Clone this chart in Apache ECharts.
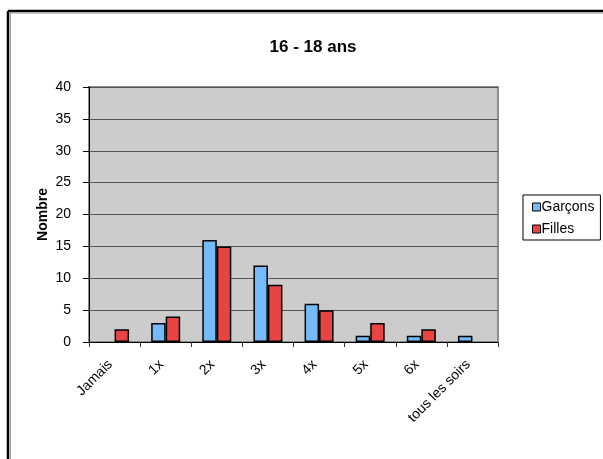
<!DOCTYPE html>
<html>
<head>
<meta charset="utf-8">
<script src="https://cdn.jsdelivr.net/npm/echarts@6/dist/echarts.min.js"></script>
<style>
  html, body { margin: 0; padding: 0; background: #fff; }
  #chart { width: 603px; height: 459px; }
</style>
</head>
<body>
<div id="chart"></div>
<script>
// Fréquence par tranche d'âge 16 - 18 ans
const categories = ['Jamais', '1x', '2x', '3x', '4x', '5x', '6x', 'tous les soirs'];
const garcons = [0, 3, 16, 12, 6, 1, 1, 1];
const filles = [2, 4, 15, 9, 5, 3, 2, 0];
const yTicks = [0, 5, 10, 15, 20, 25, 30, 35, 40];

const font = 'Liberation Sans, Arial, sans-serif';

// Bars with a value of zero get no outline so they don't thicken the axis line
const barData = (values) => values.map(v => (v === 0 ? { value: v, itemStyle: { borderWidth: 0 } } : v));

const chart = echarts.init(document.getElementById('chart'), null, { renderer: 'canvas' });

chart.setOption({
  backgroundColor: '#ffffff',
  animation: false,
  title: {
    text: '16 - 18 ans',
    left: 308,
    textAlign: 'center',
    top: 34,
    textStyle: { fontFamily: font, fontSize: 17, fontWeight: 'bold', color: '#000' }
  },
  legend: {
    orient: 'vertical',
    left: 523,
    top: 195,
    itemWidth: 8,
    itemHeight: 8,
    itemGap: 6,
    padding: [4, 6, 3, 9],
    borderColor: '#000',
    borderWidth: 1,
    backgroundColor: '#fff',
    borderRadius: 0,
    icon: 'rect',
    textStyle: { fontFamily: font, fontSize: 14, lineHeight: 16, color: '#000', padding: [0, 0, 0, -4] },
    data: [
      { name: 'Garçons', itemStyle: { borderColor: '#000', borderWidth: 1 } },
      { name: 'Filles', itemStyle: { borderColor: '#000', borderWidth: 1 } }
    ]
  },
  grid: {
    left: 89, right: 105, top: 87, bottom: 117,
    show: true,
    backgroundColor: '#cccccc',
    borderColor: '#8c8c8c',
    borderWidth: 2
  },
  xAxis: {
    type: 'category',
    data: categories,
    axisLine: { lineStyle: { color: '#000', width: 1 } },
    axisTick: { show: true, length: 5, inside: false, alignWithLabel: false, lineStyle: { color: '#333' } },
    axisLabel: {
      rotate: 45, interval: 0, margin: 16,
      padding: [0, 6, 0, 0],
      fontFamily: font, fontSize: 14, color: '#000'
    },
    splitLine: { show: false }
  },
  yAxis: {
    type: 'value',
    min: 0, max: 40, interval: 5,
    name: 'Nombre',
    nameLocation: 'middle',
    nameGap: 39,
    nameMoveOverlap: false,
    nameRotate: 90,
    nameTextStyle: { fontFamily: font, fontSize: 14, fontWeight: 'bold', color: '#000' },
    axisLine: { show: true, lineStyle: { color: '#000', width: 1 } },
    axisTick: { show: true, length: 6, lineStyle: { color: '#000' } },
    axisLabel: {
      margin: 18, fontFamily: font, fontSize: 14, color: '#000',
      formatter: v => (yTicks.indexOf(v) >= 0 ? String(v) : '')
    },
    splitLine: { show: true, lineStyle: { color: '#555', width: 1 } }
  },
  series: [
    {
      name: 'Garçons', type: 'bar', data: barData(garcons),
      barWidth: 14.5, barGap: '0%',
      itemStyle: { color: '#75bbfb', borderColor: '#000', borderWidth: 1.5 }
    },
    {
      name: 'Filles', type: 'bar', data: barData(filles),
      barWidth: 14.5, barGap: '0%',
      itemStyle: { color: '#e84444', borderColor: '#000', borderWidth: 1.5 }
    }
  ],
  graphic: [
    { type: 'line', shape: { x1: 8, y1: 11, x2: 603, y2: 11 }, style: { stroke: '#000', lineWidth: 2.5 } },
    { type: 'line', shape: { x1: 8, y1: 11, x2: 8, y2: 459 }, style: { stroke: '#000', lineWidth: 2.5 } },
    { type: 'line', shape: { x1: 10, y1: 13, x2: 603, y2: 13 }, style: { stroke: '#999', lineWidth: 1 } },
    { type: 'line', shape: { x1: 10.5, y1: 13, x2: 10.5, y2: 459 }, style: { stroke: '#999', lineWidth: 1 } }
  ]
});
</script>
</body>
</html>
